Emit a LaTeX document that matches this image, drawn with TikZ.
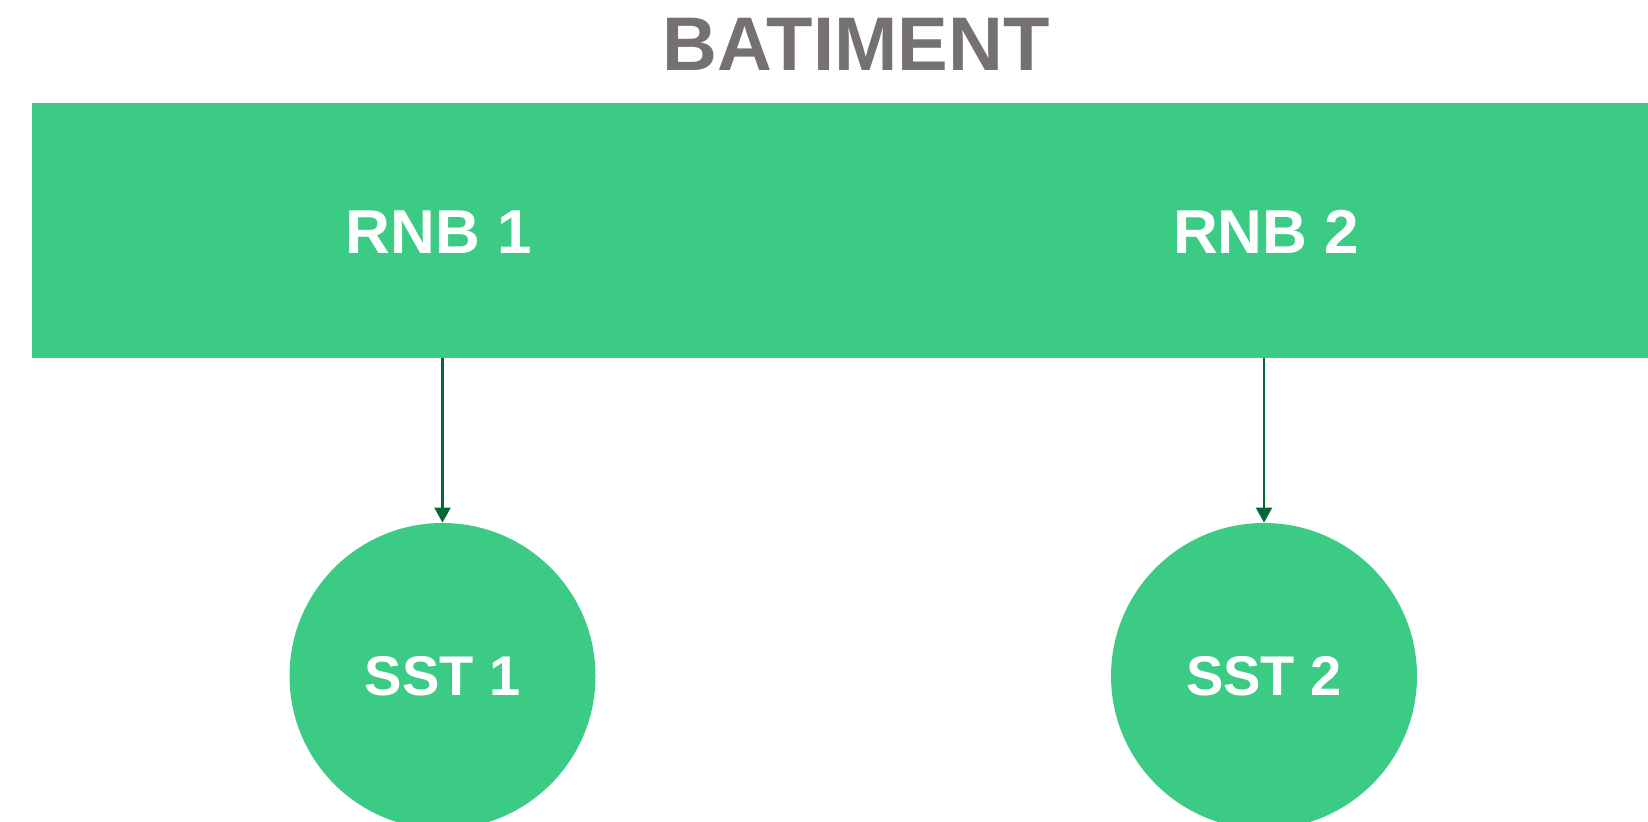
\documentclass[tikz,border=0pt]{standalone}
\usepackage{fontspec}
\setmainfont{Liberation Sans}
\usepackage{xcolor}
\usetikzlibrary{arrows.meta, positioning}
\definecolor{vert}{HTML}{3CCB84}
\definecolor{gris}{HTML}{767171}
\definecolor{vertfonce}{HTML}{006837}
\tikzstyle{bloc}=[rectangle, fill=vert, draw=none, inner sep=0pt]
\tikzstyle{rond}=[circle, fill=vert, draw=none, minimum size=153pt, inner sep=0pt, text=white, font=\bfseries\fontsize{28}{30}\selectfont]
\tikzstyle{etiq}=[text=white, font=\bfseries\fontsize{31}{33}\selectfont]
\tikzstyle{fleche}=[-{Triangle[width=8pt, length=7.5pt]}, draw=vertfonce, line width=1.1pt]

\begin{document}
\begin{tikzpicture}[x=0.5pt, y=-0.5pt]
\useasboundingbox (0,0) rectangle (1648,822);

% Titre
\node[text=gris, font=\bfseries\fontsize{38}{40}\selectfont] (titre) at (856,44) {BATIMENT};

% Batiment
\node[bloc, minimum width=808.25pt, minimum height=127.5pt] (bat) at (839.75,230.5) {};
\node[etiq] (rnb1) at (439,232) {RNB 1};
\node[etiq] (rnb2) at (1266,232) {RNB 2};

% Sous-stations
\node[rond] (sst1) at (442.5,676) {SST 1};
\node[rond] (sst2) at (1264,676) {SST 2};

\draw[fleche] (sst1.north |- bat.south) -- (sst1.north);
\draw[fleche] (sst2.north |- bat.south) -- (sst2.north);

\end{tikzpicture}
\end{document}
